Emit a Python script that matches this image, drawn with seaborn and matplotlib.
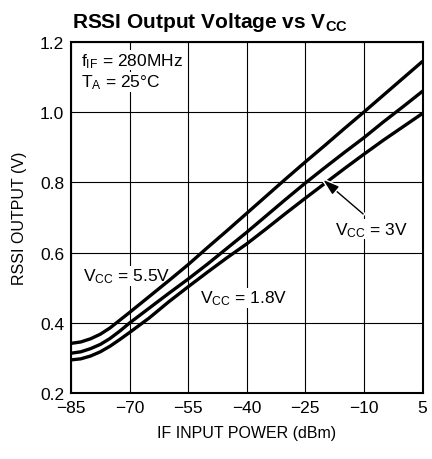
import matplotlib
matplotlib.use("Agg")
import matplotlib.pyplot as plt
import matplotlib.patheffects as pe
from matplotlib import font_manager
import seaborn as sns
import pandas as pd

# ---- data ----
x_dbm = [-85, -82.5, -80, -77.5, -75, -72.5, -70, -65, -60, -55, -50, -45, -40, -35, -30, -25, -20, -15, -10, -5, 0, 5]
vcc_5v5 = [0.342, 0.346, 0.355, 0.368, 0.386, 0.408, 0.430, 0.475, 0.520, 0.566, 0.615, 0.663, 0.712, 0.761, 0.810, 0.858, 0.905, 0.953, 1.000, 1.048, 1.096, 1.144]
vcc_3v = [0.314, 0.318, 0.327, 0.339, 0.356, 0.377, 0.400, 0.442, 0.484, 0.525, 0.568, 0.613, 0.658, 0.705, 0.752, 0.798, 0.842, 0.885, 0.927, 0.972, 1.015, 1.059]
vcc_1v8 = [0.295, 0.298, 0.306, 0.318, 0.334, 0.353, 0.373, 0.414, 0.460, 0.503, 0.545, 0.586, 0.625, 0.668, 0.712, 0.755, 0.797, 0.839, 0.880, 0.920, 0.958, 0.996]
series_names = ["5.5V", "3V", "1.8V"]
x_ticks = [-85, -70, -55, -40, -25, -10, 5]
y_ticks = [0.2, 0.4, 0.6, 0.8, 1.0, 1.2]

df = pd.concat([
    pd.DataFrame({"x": x_dbm, "y": v, "vcc": n})
    for n, v in zip(series_names, [vcc_5v5, vcc_3v, vcc_1v8])
])

sns.set_theme(style="white")
avail = {f.name for f in font_manager.fontManager.ttflist}
base = "Liberation Sans Narrow" if "Liberation Sans Narrow" in avail else "Liberation Sans"
plt.rcParams["font.family"] = [base, "DejaVu Sans"]
plt.rcParams["mathtext.fontset"] = "custom"
plt.rcParams["mathtext.rm"] = base
plt.rcParams["mathtext.it"] = base
plt.rcParams["mathtext.bf"] = base + ":bold"
plt.rcParams["axes.unicode_minus"] = True

fig = plt.figure(figsize=(4.32, 4.60), dpi=100)
ax = fig.add_axes([71 / 432, 1 - 394.3 / 460, (422.5 - 71) / 432, (394.3 - 42.7) / 460])

sns.lineplot(data=df, x="x", y="y", hue="vcc", palette=["black"] * 3,
             linewidth=2.4, legend=False, ax=ax, zorder=3)

ax.set_xlim(-85, 5)
ax.set_ylim(0.2, 1.2)
ax.set_xticks(x_ticks)
ax.set_yticks(y_ticks)
ax.set_yticklabels([f"{v:.1f}" for v in y_ticks])
ax.grid(True, color="black", linewidth=0.8)
ax.tick_params(length=0, labelsize=12.5, colors="black", pad=5)
for s in ax.spines.values():
    s.set_color("black")
    s.set_linewidth(1.5)
    s.set_zorder(5)

ax.set_xlabel("IF INPUT POWER (dBm)", fontsize=11.5, color="black", labelpad=7)
ax.set_ylabel("RSSI OUTPUT (V)", fontsize=11.5, color="black", labelpad=9)

fig.text(210 / 432, 1 - 28.5 / 460, r"RSSI Output Voltage vs V$_{\mathbf{CC}}$",
         fontsize=15, fontweight="bold", ha="center", va="baseline", color="black")

box = dict(facecolor="white", edgecolor="none", pad=0.5)
tk = dict(fontsize=12.5, color="black", va="baseline", zorder=2.5, bbox=box)
ax.text(-82.5, 1.134, r"f$_{\mathrm{IF}}$ = 280MHz", **tk)
ax.text(-82.5, 1.073, r"T$_{\mathrm{A}}$ = 25°C", **tk)
ax.text(-81.9, 0.520, r"V$_{\mathrm{CC}}$ = 5.5V", **tk)
ax.text(-52.0, 0.459, r"V$_{\mathrm{CC}}$ = 1.8V", **tk)
ax.text(-17.4, 0.653, r"V$_{\mathrm{CC}}$ = 3V", **tk)

ax.annotate("", xy=(-20.4, 0.807), xytext=(-10.2, 0.710),
            arrowprops=dict(arrowstyle="-|>,head_length=0.8,head_width=0.25",
                            color="black", lw=1.0, shrinkA=0, shrinkB=0,
                            path_effects=[pe.withStroke(linewidth=3, foreground="white")]),
            zorder=4)

fig.savefig("out.png", dpi=100, facecolor="white")
